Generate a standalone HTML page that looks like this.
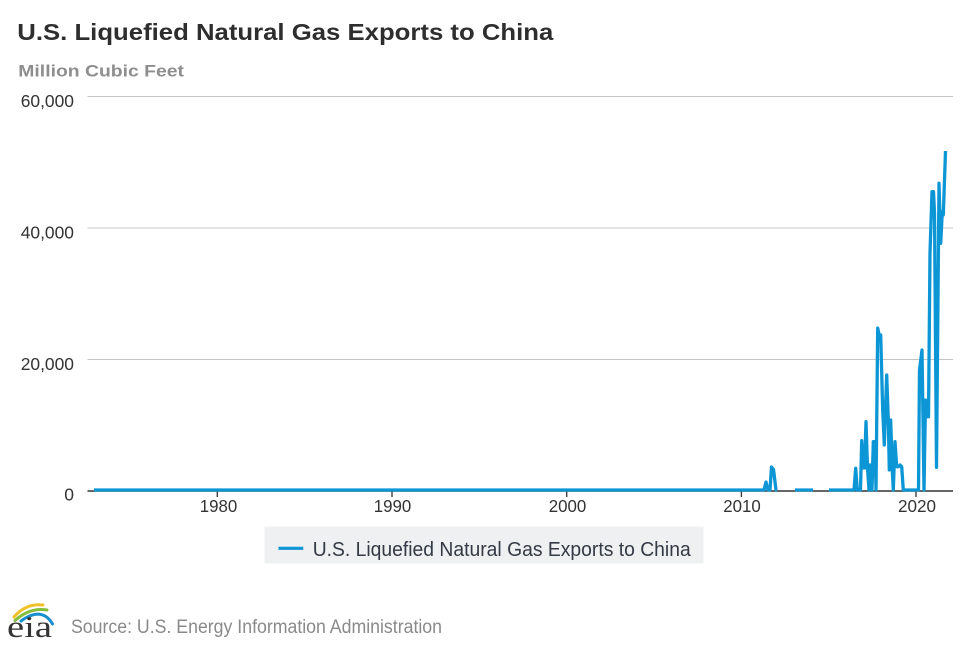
<!DOCTYPE html>
<html>
<head>
<meta charset="utf-8">
<style>
  html, body { margin: 0; padding: 0; background: #ffffff; }
  body { width: 972px; height: 647px; overflow: hidden; }
  svg { display: block; }
  text { font-family: "Liberation Sans", Arial, sans-serif; }
  text.serif { font-family: "Liberation Serif", "DejaVu Serif", serif; }
</style>
</head>
<body>
<svg width="972" height="647" viewBox="0 0 972 647" xmlns="http://www.w3.org/2000/svg">
  <rect x="0" y="0" width="972" height="647" fill="#ffffff"/>

  <!-- Title -->
  <text x="17.3" y="40" font-size="23.5" font-weight="bold" fill="#2e2e2e" textLength="536" lengthAdjust="spacingAndGlyphs">U.S. Liquefied Natural Gas Exports to China</text>
  <!-- Subtitle -->
  <text x="18.3" y="76.7" font-size="17" font-weight="bold" fill="#8e8e8e" textLength="165.7" lengthAdjust="spacingAndGlyphs">Million Cubic Feet</text>

  <!-- Gridlines -->
  <g stroke="#c4c4c4" stroke-width="1">
    <line x1="87.5" y1="96.5" x2="953" y2="96.5"/>
    <line x1="87.5" y1="228" x2="953" y2="228"/>
    <line x1="87.5" y1="359.5" x2="953" y2="359.5"/>
  </g>

  <!-- Y labels -->
  <g font-size="17.5" fill="#333333" text-anchor="end">
    <text x="74" y="107" textLength="53.3" lengthAdjust="spacingAndGlyphs">60,000</text>
    <text x="74" y="238.5" textLength="53.3" lengthAdjust="spacingAndGlyphs">40,000</text>
    <text x="74" y="370" textLength="53.3" lengthAdjust="spacingAndGlyphs">20,000</text>
    <text x="74" y="500.5">0</text>
  </g>

  <!-- X axis -->
  <line x1="87.5" y1="491" x2="953" y2="491" stroke="#333333" stroke-width="1.6"/>
  <g stroke="#333333" stroke-width="1.3">
    <line x1="217.3" y1="491" x2="217.3" y2="497"/>
    <line x1="392" y1="491" x2="392" y2="497"/>
    <line x1="566.7" y1="491" x2="566.7" y2="497"/>
    <line x1="741.4" y1="491" x2="741.4" y2="497"/>
    <line x1="916" y1="491" x2="916" y2="497"/>
  </g>
  <g font-size="17.5" fill="#333333" text-anchor="middle">
    <text x="218.5" y="512" textLength="37.5" lengthAdjust="spacingAndGlyphs">1980</text>
    <text x="392.5" y="512" textLength="37.5" lengthAdjust="spacingAndGlyphs">1990</text>
    <text x="567.5" y="512" textLength="37.5" lengthAdjust="spacingAndGlyphs">2000</text>
    <text x="742" y="512" textLength="37.5" lengthAdjust="spacingAndGlyphs">2010</text>
    <text x="917" y="512" textLength="38" lengthAdjust="spacingAndGlyphs">2020</text>
  </g>

  <!-- Series -->
  <g fill="none" stroke="#0d96d5" stroke-width="3.3" stroke-linejoin="round" stroke-linecap="butt">
    <polyline points="94,490 764,490 766,482 768,490 770,490 771.5,467 773.5,469.5 776,490 777,490"/>
    <polyline points="795,490 813,490"/>
    <polyline points="829,490 854,490 855.7,468.3 857.3,490 860.5,490 861.7,440.7 863.2,468 864.5,468 866,421.7 867.5,468 869,490 869.7,465 871,465 872,490 873.3,441.7 875,441.7 876,490 877.7,328 879.3,336 880.7,335 882.7,410 884.3,445 886.7,375 888.3,420 889.3,470 890.7,420 892.3,470 893.3,490 895,441.7 896.7,466.7 898.5,466.7 900,465 901.7,466.7 903.3,490 918.5,490 919.5,370 922,350 924,490 925.5,400 927,416.7 928.5,416.7 930,253 932,191.7 933.5,191.7 934.5,213 936.5,467.3 939,183.3 940.7,243.3 942.3,211.7 943.3,215 945.5,151"/>
  </g>

  <!-- Legend -->
  <rect x="264.5" y="526.5" width="439" height="37" fill="#eff0f2"/>
  <line x1="278.5" y1="548.3" x2="303.3" y2="548.3" stroke="#0d96d5" stroke-width="3.2"/>
  <text x="312.7" y="556" font-size="20" fill="#333a45" textLength="378" lengthAdjust="spacingAndGlyphs">U.S. Liquefied Natural Gas Exports to China</text>

  <!-- EIA logo -->
  <g fill="none" stroke-linecap="round">
    <path d="M14,617 Q26,603 43,605" stroke="#f0c127" stroke-width="3"/>
    <path d="M15,620.5 Q30,607 47,610" stroke="#86bd3c" stroke-width="3"/>
    <path d="M21,621 Q42,606 52.5,624" stroke="#1a8fd0" stroke-width="3"/>
  </g>
  <text class="serif" x="7" y="637" font-size="31" fill="#333333" textLength="45" lengthAdjust="spacingAndGlyphs">eia</text>

  <!-- Source -->
  <text x="71" y="633" font-size="19" fill="#8a8a8a" textLength="371" lengthAdjust="spacingAndGlyphs">Source: U.S. Energy Information Administration</text>
</svg>
</body>
</html>
